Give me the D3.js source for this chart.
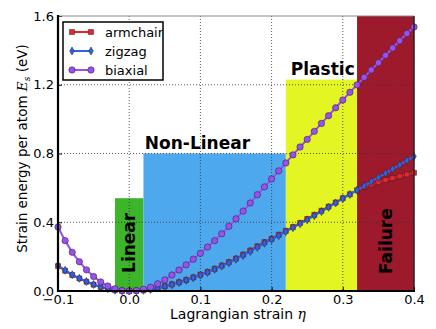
<!DOCTYPE html>
<html>
<head>
<meta charset="utf-8">
<script src="https://cdn.jsdelivr.net/npm/d3@7"></script>
<style>
  body { margin: 0; background: white; }
  text { font-family: "DejaVu Sans", sans-serif; }
</style>
</head>
<body>
<div id="chart"></div>
<script>
// strain values (x)
const eta = [-0.10,-0.09,-0.08,-0.07,-0.06,-0.05,-0.04,-0.03,-0.02,-0.01,
  0.00,0.01,0.02,0.03,0.04,0.05,0.06,0.07,0.08,0.09,
  0.10,0.11,0.12,0.13,0.14,0.15,0.16,0.17,0.18,0.19,
  0.20,0.21,0.22,0.23,0.24,0.25,0.26,0.27,0.28,0.29,
  0.30,0.31,0.32,0.33,0.34,0.35,0.36,0.37,0.38,0.39,0.40]

// strain energy per atom (eV)
const armchair = [0.145,0.118,0.093,0.073,0.054,0.037,0.023,0.012,0.005,0.001,
  0.000,0.001,0.004,0.010,0.018,0.028,0.039,0.051,0.064,0.079,
  0.095,0.111,0.129,0.148,0.168,0.189,0.212,0.236,0.260,0.284,
  0.304,0.327,0.350,0.372,0.396,0.419,0.443,0.467,0.491,0.515,
  0.540,0.563,0.586,0.605,0.619,0.633,0.646,0.657,0.668,0.678,0.688]

const zigzag = [0.150,0.121,0.095,0.074,0.055,0.038,0.024,0.013,0.005,0.001,
  0.000,0.001,0.004,0.009,0.017,0.027,0.037,0.049,0.062,0.077,
  0.092,0.108,0.126,0.145,0.164,0.185,0.207,0.230,0.254,0.278,
  0.299,0.322,0.345,0.368,0.391,0.414,0.438,0.462,0.487,0.512,
  0.538,0.562,0.587,0.612,0.636,0.661,0.685,0.710,0.734,0.759,0.783]

const biaxial = [0.372,0.293,0.225,0.170,0.123,0.084,0.053,0.029,0.013,0.003,
  0.000,0.003,0.010,0.022,0.042,0.065,0.093,0.122,0.152,0.185,
  0.219,0.256,0.293,0.333,0.376,0.420,0.465,0.512,0.560,0.606,
  0.652,0.699,0.745,0.792,0.838,0.882,0.929,0.975,1.020,1.066,
  1.111,1.156,1.199,1.243,1.286,1.328,1.371,1.414,1.456,1.498,1.536]

// deformation regimes
const regionNames = ["Linear", "Non-Linear", "Plastic", "Failure"]
const regionStart = [-0.02, 0.02, 0.22, 0.32]
const regionEnd = [0.02, 0.22, 0.32, 0.40]
const regionTop = [0.54, 0.80, 1.23, 1.60]
const regionColors = ["#3cb52a", "#4ea8ee", "#e4f524", "#9c1a2c"]

const xTicks = [-0.1, 0.0, 0.1, 0.2, 0.3, 0.4]
const yTicks = [0.0, 0.4, 0.8, 1.2, 1.6]

const series = [
  {name: "armchair", values: armchair, color: "#e8262b", marker: d3.symbolSquare},
  {name: "zigzag", values: zigzag, color: "#2f62e6", marker: "diamond"},
  {name: "biaxial", values: biaxial, color: "#9a4ff0", marker: d3.symbolCircle}
]

const width = 436, height = 329
const margin = {top: 16, right: 22, bottom: 38, left: 58}
const iw = width - margin.left - margin.right
const ih = height - margin.top - margin.bottom

const svg = d3.select("#chart").append("svg")
  .attr("width", width)
  .attr("height", height)

const g = svg.append("g")
  .attr("transform", `translate(${margin.left}, ${margin.top})`)

const x = d3.scaleLinear().domain([-0.1, 0.4]).range([0, iw])
const y = d3.scaleLinear().domain([0, 1.6]).range([ih, 0])

// regime boxes
g.selectAll(".region")
  .data(regionNames)
  .join("rect")
    .attr("x", (d, i) => x(regionStart[i]))
    .attr("y", (d, i) => y(regionTop[i]))
    .attr("width", (d, i) => x(regionEnd[i]) - x(regionStart[i]))
    .attr("height", (d, i) => y(0) - y(regionTop[i]))
    .style("fill", (d, i) => regionColors[i])

// grid
g.append("g")
  .selectAll("line")
  .data(xTicks.slice(1, -1))
  .join("line")
    .attr("x1", d => x(d)).attr("x2", d => x(d))
    .attr("y1", 0).attr("y2", ih)
    .style("stroke", "#333").style("stroke-width", 0.8)
    .style("stroke-dasharray", "1,2")
g.append("g")
  .selectAll("line")
  .data(yTicks.slice(1, -1))
  .join("line")
    .attr("x1", 0).attr("x2", iw)
    .attr("y1", d => y(d)).attr("y2", d => y(d))
    .style("stroke", "#333").style("stroke-width", 0.8)
    .style("stroke-dasharray", "1,2")

// regime labels
const labelStyle = sel => sel.style("font-weight", "bold").style("font-size", "17px").style("fill", "#000")
g.append("text")
  .attr("transform", `translate(${x(0) + 6}, ${y(0.28)}) rotate(-90)`)
  .attr("text-anchor", "middle")
  .call(labelStyle).text("Linear")
g.append("text")
  .attr("x", x(0.022)).attr("y", y(0.8) - 5)
  .call(labelStyle).text("Non-Linear")
g.append("text")
  .attr("x", x(0.227)).attr("y", y(1.23) - 5)
  .call(labelStyle).text("Plastic")
g.append("text")
  .attr("transform", `translate(${x(0.36) + 6}, ${y(0.29)}) rotate(-90)`)
  .attr("text-anchor", "middle")
  .call(labelStyle).text("Failure")

// curves
const line = d3.line()
  .x((d, i) => x(eta[i]))
  .y(d => y(d))

function markerPath(type) {
  if (type === "diamond") return "M0,-4L2.3,0L0,4L-2.3,0Z"
  return d3.symbol().type(type).size(type === d3.symbolSquare ? 25 : 32)()
}

series.forEach(s => {
  g.append("path")
    .datum(s.values)
    .attr("d", line)
    .style("fill", "none")
    .style("stroke", s.color)
    .style("stroke-width", 2)
  g.append("g")
    .selectAll("path")
    .data(s.values)
    .join("path")
      .attr("transform", (d, i) => `translate(${x(eta[i])}, ${y(d)})`)
      .attr("d", markerPath(s.marker))
      .style("fill", s.color)
      .style("stroke", "#222")
      .style("stroke-width", 0.5)
})

// axes
const xAxis = g.append("g")
  .attr("transform", `translate(0, ${ih})`)
  .call(d3.axisBottom(x).tickValues(xTicks).tickFormat(d3.format(".1f")).tickSize(-4).tickPadding(4))
xAxis.select(".domain").remove()
xAxis.selectAll("text").style("font-size", "13px").style("fill", "#000")

const yAxis = g.append("g")
  .call(d3.axisLeft(y).tickValues(yTicks).tickFormat(d3.format(".1f")).tickSize(-4).tickPadding(4))
yAxis.select(".domain").remove()
yAxis.selectAll("text").style("font-size", "13px").style("fill", "#000")

// frame
g.append("line").attr("x1", 0).attr("x2", iw).attr("y1", 0).attr("y2", 0)
  .style("stroke", "#888").style("stroke-width", 1)
g.append("line").attr("x1", iw).attr("x2", iw).attr("y1", 0).attr("y2", ih)
  .style("stroke", "#222").style("stroke-width", 1.5)
g.append("line").attr("x1", 0).attr("x2", 0).attr("y1", -1).attr("y2", ih + 1)
  .style("stroke", "#000").style("stroke-width", 2.2)
g.append("line").attr("x1", -1).attr("x2", iw + 1).attr("y1", ih).attr("y2", ih)
  .style("stroke", "#000").style("stroke-width", 2.2)

// axis titles
svg.append("text")
  .attr("x", margin.left + iw / 2 + 2).attr("y", 319)
  .attr("text-anchor", "middle")
  .style("font-size", "14px")
  .html('Lagrangian strain <tspan font-family="DejaVu Serif, serif" font-style="italic">η</tspan>')

svg.append("text")
  .attr("transform", `translate(27, ${margin.top + ih / 2 - 5}) rotate(-90)`)
  .attr("text-anchor", "middle")
  .style("font-size", "13.5px")
  .html('Strain energy per atom <tspan font-family="DejaVu Serif, serif" font-style="italic">E</tspan><tspan font-family="DejaVu Serif, serif" font-style="italic" font-size="9px" dy="3">s</tspan><tspan dy="-3"> (eV)</tspan>')

// legend
const legend = g.append("g").attr("transform", "translate(5, 6)")
legend.append("rect")
  .attr("width", 100).attr("height", 58)
  .style("fill", "white").style("stroke", "#000").style("stroke-width", 1.5)

series.forEach((s, i) => {
  const row = legend.append("g").attr("transform", `translate(0, ${10 + i * 19})`)
  row.append("line")
    .attr("x1", 9).attr("x2", 28)
    .style("stroke", s.color).style("stroke-width", 2)
  ;[9, 28].forEach(px => {
    row.append("path")
      .attr("transform", `translate(${px}, 0)`)
      .attr("d", markerPath(s.marker))
      .style("fill", s.color).style("stroke", "#222").style("stroke-width", 0.5)
  })
  row.append("text")
    .attr("x", 42).attr("y", 4.5)
    .style("font-size", "13px")
    .text(s.name)
})
</script>
</body>
</html>
